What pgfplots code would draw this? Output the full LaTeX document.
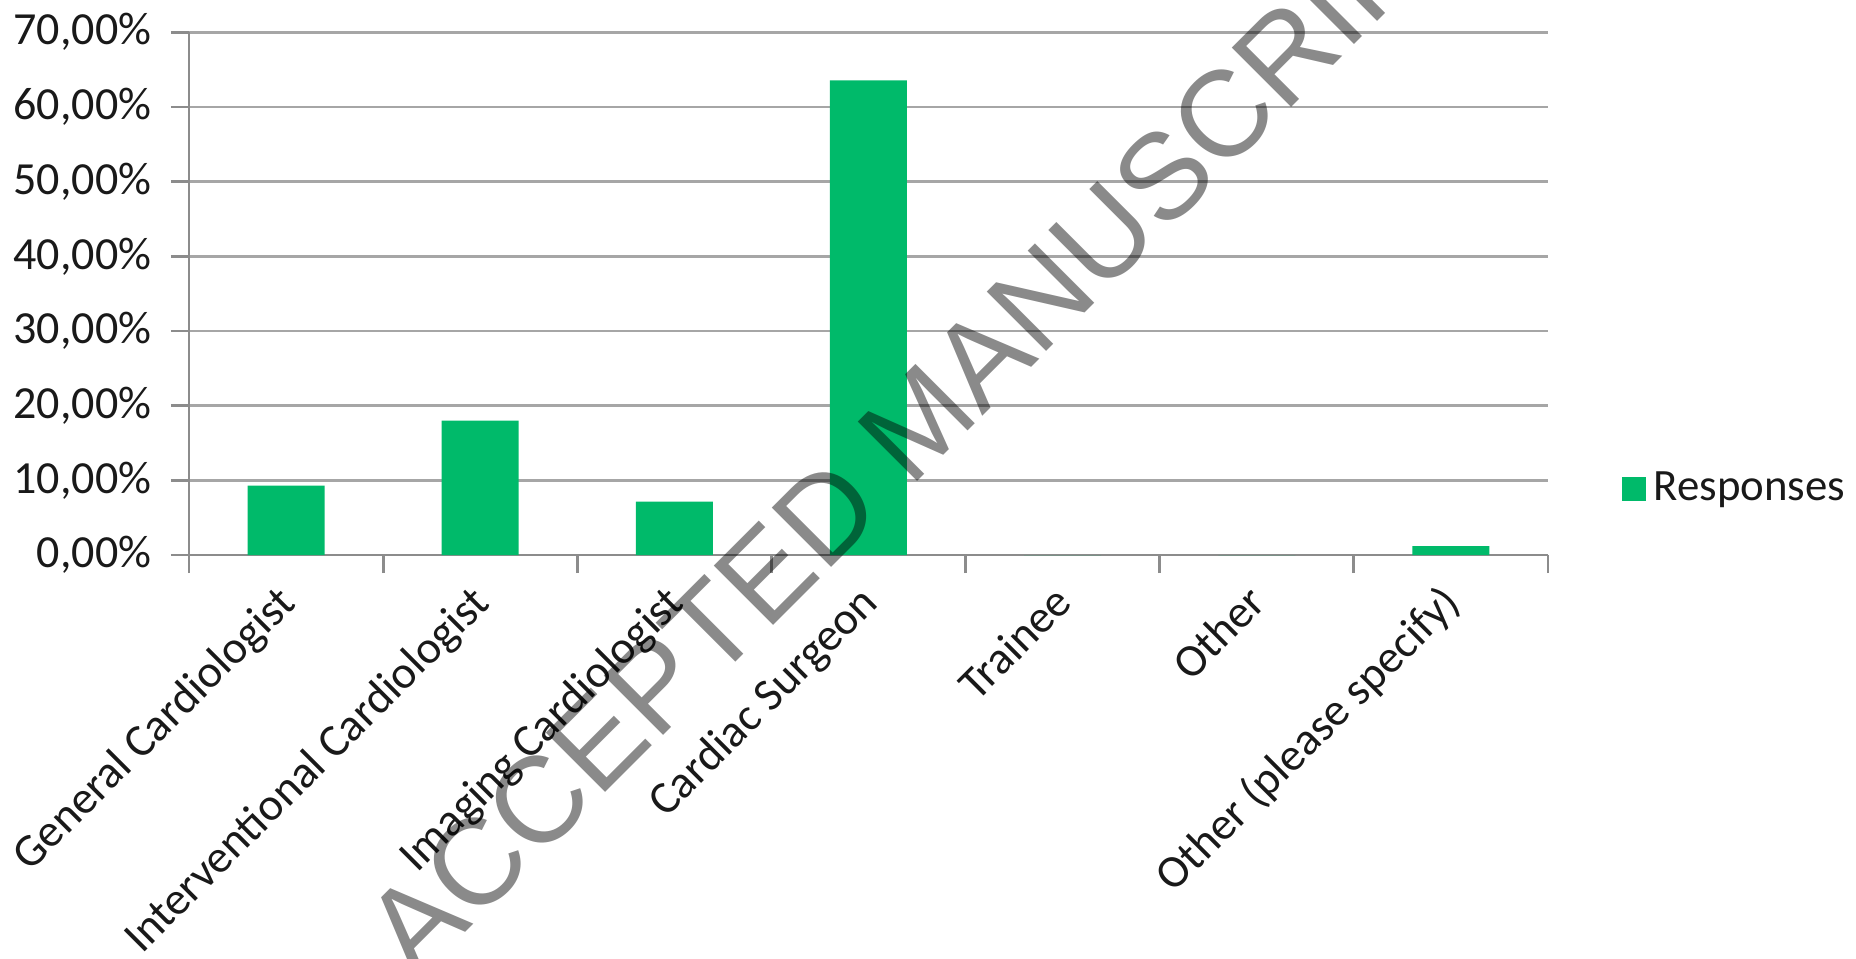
\documentclass[border=0pt]{standalone}
\usepackage{pgfplots}
\pgfplotsset{compat=1.18}
\usepackage{fontspec}
\setmainfont{Carlito}
\newfontfamily\wmfont{Liberation Sans}
\definecolor{bargreen}{RGB}{0,186,106}
\definecolor{gridgray}{RGB}{166,166,166}
\definecolor{axisgray}{RGB}{140,140,140}
\definecolor{txt}{RGB}{25,25,25}

\begin{document}
\begin{tikzpicture}
\useasboundingbox (-47.25pt,-100.75pt) rectangle (416.75pt,138.75pt);
\begin{axis}[
  scale only axis, width=339.75pt, height=130.7pt,
  at={(0pt,0pt)}, anchor=south west,
  xmin=0.5, xmax=7.5, ymin=0, ymax=70,
  axis x line*=bottom, axis y line*=left,
  axis line style={-, draw=axisgray, line width=0.7pt},
  ybar, bar width=19.25pt,
  xtick={0.5,1.5,2.5,3.5,4.5,5.5,6.5,7.5}, xticklabels={},
  extra x ticks={1,2,3,4,5,6,7},
  extra x tick labels={General Cardiologist, Interventional Cardiologist, Imaging Cardiologist, Cardiac Surgeon, Trainee, Other, Other (please specify)},
  extra x tick style={major tick length=0pt},
  ytick={0,10,20,30,40,50,60,70},
  yticklabels={{0,00\%},{10,00\%},{20,00\%},{30,00\%},{40,00\%},{50,00\%},{60,00\%},{70,00\%}},
  tick align=outside, major tick length=4.5pt,
  tick style={draw=axisgray, line width=0.7pt},
  ymajorgrids, grid style={draw=gridgray, line width=0.7pt},
  tick label style={font=\fontsize{11.5}{13.8}\selectfont, text=txt},
  xticklabel style={inner sep=0pt, xshift=3pt, yshift=-12.4pt, rotate=45, anchor=base east},
  yticklabel style={inner sep=0pt, anchor=east, xshift=-4.75pt},
  legend style={at={(axis description cs:1.0537,0.126)}, anchor=west, draw=none, fill=none,
    inner sep=0pt, font=\fontsize{11.2}{13.4}\selectfont, text=txt},
  legend cell align=left,
]
\addplot[fill=bargreen, draw=none,
  legend image code/.code={\fill[bargreen] (0pt,-3pt) rectangle (6pt,3pt);}]
  coordinates {(1,9.3) (2,18.0) (3,7.15) (4,63.55) (5,0) (6,0) (7,1.2)};
\addlegendentry{Responses}
\end{axis}
\node[rotate=45, inner sep=0pt, text=black, text opacity=0.46,
  font=\wmfont\fontsize{30.5}{36}\selectfont] at (182.5pt,33.7pt) {ACCEPTED MANUSCRIPT};
\end{tikzpicture}
\end{document}
